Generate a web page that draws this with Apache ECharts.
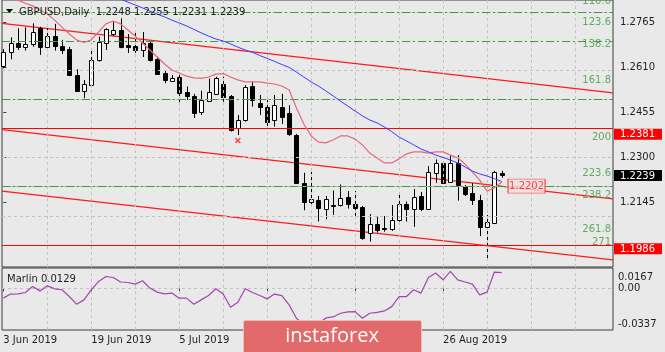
<!DOCTYPE html>
<html>
<head>
<meta charset="utf-8">
<title>GBPUSD Daily</title>
<script src="https://cdn.jsdelivr.net/npm/echarts@6/dist/echarts.min.js"></script>
<style>
  html, body { margin: 0; padding: 0; background: #e9e9e9; }
  #chart { width: 665px; height: 352px; }
</style>
</head>
<body>
<div id="chart"></div>
<script>
// ---- data ----
var symbol = 'GBPUSD';
var period = 'Daily';
var dateLabels = ['3 Jun 2019', '19 Jun 2019', '5 Jul 2019', '23 Jul 2019', '8 Aug 2019', '26 Aug 2019'];
var dateLabelBars = [0, 12, 24, 36, 48, 60];

var opens = [1.2616, 1.2663, 1.2696, 1.2681, 1.2691, 1.2746, 1.2682, 1.2719, 1.2685, 1.2674,
  1.2584, 1.2531, 1.2550, 1.2637, 1.2696, 1.2725, 1.2740, 1.2688, 1.2686, 1.2671,
  1.2696, 1.2639, 1.2591, 1.2565, 1.2579, 1.2527, 1.2513, 1.2458, 1.2496, 1.2520,
  1.2554, 1.2513, 1.2401, 1.2430, 1.2547, 1.2489, 1.2476, 1.2430, 1.2476, 1.2453,
  1.2378, 1.2214, 1.2148, 1.2156, 1.2125, 1.2137, 1.2137, 1.2164, 1.2139, 1.2129,
  1.2042, 1.2073, 1.2058, 1.2053, 1.2085, 1.2141, 1.2122, 1.2168, 1.2122, 1.2249,
  1.2281, 1.2217, 1.2283, 1.2203, 1.2177, 1.2154, 1.2060, 1.2076, 1.2248];
var highs = [1.2674, 1.2715, 1.2746, 1.2749, 1.2763, 1.2751, 1.2746, 1.2761, 1.2706, 1.2682,
  1.2605, 1.2568, 1.2674, 1.2717, 1.2746, 1.2769, 1.2780, 1.2726, 1.2733, 1.2733,
  1.2700, 1.2648, 1.2599, 1.2585, 1.2591, 1.2545, 1.2520, 1.2531, 1.2573, 1.2579,
  1.2579, 1.2516, 1.2447, 1.2550, 1.2562, 1.2516, 1.2499, 1.2516, 1.2520, 1.2481,
  1.2382, 1.2248, 1.2251, 1.2168, 1.2168, 1.2187, 1.2208, 1.2185, 1.2185, 1.2134,
  1.2106, 1.2097, 1.2099, 1.2137, 1.2173, 1.2149, 1.2192, 1.2182, 1.2271, 1.2294,
  1.2286, 1.2309, 1.2309, 1.2206, 1.2212, 1.2172, 1.2103, 1.2255, 1.2255];
var lows = [1.2608, 1.2639, 1.2671, 1.2669, 1.2682, 1.2654, 1.2669, 1.2669, 1.2657, 1.2581,
  1.2527, 1.2505, 1.2543, 1.2631, 1.2671, 1.2719, 1.2677, 1.2661, 1.2661, 1.2647,
  1.2631, 1.2585, 1.2556, 1.2562, 1.2481, 1.2499, 1.2437, 1.2447, 1.2493, 1.2516,
  1.2493, 1.2390, 1.2378, 1.2424, 1.2476, 1.2447, 1.2402, 1.2407, 1.2416, 1.2375,
  1.2210, 1.2119, 1.2130, 1.2080, 1.2088, 1.2103, 1.2132, 1.2125, 1.2092, 1.2017,
  1.2011, 1.2042, 1.2045, 1.2048, 1.2080, 1.2080, 1.2062, 1.2116, 1.2120, 1.2213,
  1.2210, 1.2214, 1.2152, 1.2168, 1.2137, 1.2030, 1.1953, 1.2074, 1.2231];
var closes = [1.2664, 1.2694, 1.2680, 1.2691, 1.2734, 1.2682, 1.2719, 1.2685, 1.2671, 1.2585,
  1.2530, 1.2554, 1.2637, 1.2700, 1.2742, 1.2740, 1.2682, 1.2683, 1.2671, 1.2695,
  1.2637, 1.2588, 1.2568, 1.2576, 1.2522, 1.2513, 1.2455, 1.2499, 1.2526, 1.2575,
  1.2510, 1.2395, 1.2430, 1.2545, 1.2499, 1.2474, 1.2424, 1.2481, 1.2441, 1.2380,
  1.2213, 1.2148, 1.2157, 1.2126, 1.2157, 1.2136, 1.2160, 1.2139, 1.2128, 1.2022,
  1.2072, 1.2051, 1.2056, 1.2085, 1.2141, 1.2122, 1.2164, 1.2122, 1.2250, 1.2283,
  1.2212, 1.2281, 1.2206, 1.2175, 1.2154, 1.2060, 1.2078, 1.2252, 1.2239];

// moving averages (pink = fast, blue = slow)
var maFast = [1.2862, 1.2853, 1.2843, 1.2832, 1.2823, 1.2809, 1.2795, 1.2774, 1.2750, 1.2726,
  1.2706, 1.2697, 1.2706, 1.2733, 1.2761, 1.2771, 1.2761, 1.2740, 1.2719, 1.2695,
  1.2671, 1.2647, 1.2623, 1.2602, 1.2592, 1.2581, 1.2575, 1.2573, 1.2578, 1.2588,
  1.2590, 1.2578, 1.2568, 1.2561, 1.2561, 1.2561, 1.2557, 1.2554, 1.2547, 1.2533,
  1.2471, 1.2416, 1.2375, 1.2354, 1.2351, 1.2361, 1.2375, 1.2375, 1.2364, 1.2344,
  1.2316, 1.2299, 1.2282, 1.2282, 1.2296, 1.2313, 1.2320, 1.2320, 1.2316, 1.2320,
  1.2320, 1.2309, 1.2299, 1.2278, 1.2251, 1.2223, 1.2185, 1.2196, 1.2216];
var maSlow = [null, null, null, null, null, null, null, null, null, null,
  null, null, null, 1.2878, 1.2867, 1.2857, 1.2847, 1.2836, 1.2826, 1.2816,
  1.2805, 1.2795, 1.2785, 1.2774, 1.2764, 1.2754, 1.2742, 1.2730, 1.2719, 1.2709,
  1.2702, 1.2692, 1.2681, 1.2671, 1.2663, 1.2652, 1.2642, 1.2632, 1.2621, 1.2611,
  1.2595, 1.2578, 1.2561, 1.2547, 1.2530, 1.2513, 1.2495, 1.2478, 1.2461, 1.2444,
  1.2430, 1.2420, 1.2406, 1.2390, 1.2371, 1.2358, 1.2344, 1.2330, 1.2320, 1.2309,
  1.2301, 1.2292, 1.2282, 1.2268, 1.2254, 1.2244, 1.2237, 1.2228, 1.2218];

// Marlin oscillator
var marlin = [-0.0078, -0.0045, -0.0043, -0.0032, 0.0017, -0.0019, 0.0022, -0.0002, -0.0010, -0.0065,
  -0.0127, -0.0092, -0.0010, 0.0058, 0.0098, 0.0090, 0.0053, 0.0049, 0.0036, 0.0063,
  0.0004, -0.0029, -0.0043, -0.0037, -0.0078, -0.0078, -0.0127, -0.0092, -0.0057, -0.0002,
  -0.0045, -0.0152, -0.0111, -0.0002, -0.0032, -0.0057, -0.0084, -0.0045, -0.0057, -0.0133,
  -0.0242, -0.0296, -0.0313, -0.0288, -0.0239, -0.0231, -0.0201, -0.0190, -0.0188, -0.0242,
  -0.0201, -0.0193, -0.0182, -0.0147, -0.0065, -0.0065, -0.0010, -0.0037, 0.0090, 0.0126,
  0.0071, 0.0139, 0.0071, 0.0053, 0.0036, -0.0051, -0.0029, 0.0134, 0.0129];

// axis ticks
var priceTicks = [1.2765, 1.2610, 1.2455, 1.2300, 1.2145];
var marlinTicks = [0.0167, 0.00, -0.0337];
var gridBars = [6, 12, 18, 24, 30, 36, 42, 48, 54, 60, 66, 72, 78];

// objects drawn on the chart
var fibLabels = ['110.0', '123.6', '138.2', '161.8', '200', '223.6', '238.2', '261.8', '271'];
var fibPrices = [1.2817, 1.2744, 1.2669, 1.2547, 1.2350, 1.2226, 1.2151, 1.2031, 1.1986];
var levelPrices = [1.2381, 1.1986];
var channelStart = [1.2763, 1.2397, 1.2185];   // price at left edge
var channelEnd = [1.2523, 1.2158, 1.1948];     // price at right edge
var trendLabelPrice = 1.2202;
var crossBar = 32, crossPrice = 1.2359;

// ---- layout ----
var xMin = -0.18, xMax = 83.19;
var yMin = 1.19235, yMax = 1.28433;
var font = 'DejaVu Sans';
var last = opens.length - 1;
var bid = closes[last];

var candleData = opens.map(function (o, i) {
  return [i, o, closes[i], lows[i], highs[i]];
});

function renderCandle(params, api) {
  var i = api.value(0);
  var o = api.coord([i, api.value(1)]);
  var c = api.coord([i, api.value(2)]);
  var l = api.coord([i, api.value(3)]);
  var h = api.coord([i, api.value(4)]);
  var x = Math.round(o[0]) + 0.5;
  var up = api.value(2) >= api.value(1);
  var top = Math.round(Math.min(o[1], c[1])) + 0.5;
  var bot = Math.round(Math.max(o[1], c[1])) + 0.5;
  return {
    type: 'group',
    children: [
      {type: 'line', shape: {x1: x, y1: h[1], x2: x, y2: l[1]}, style: {stroke: '#000', lineWidth: 1}},
      {type: 'rect', shape: {x: x - 2, y: top, width: 4, height: Math.max(bot - top, 1)},
        style: {fill: up ? '#fff' : '#000', stroke: '#000', lineWidth: 1}}
    ]
  };
}

function near(a, b) { return Math.abs(a - b) < 1e-7; }

function hLines(values, style, z) {
  return {
    type: 'line', xAxisIndex: 0, yAxisIndex: 0, data: [], z: z, silent: true,
    markLine: {
      symbol: ['none', 'none'], animation: false, silent: true, label: {show: false},
      lineStyle: style,
      data: values
    }
  };
}

var gridLine = {color: '#c2c2c2', type: [3, 3], width: 1};
var fibLine = {color: '#3f9a3f', type: [8, 3, 2, 3], width: 1.2};

var series = [];

// grid lines of the main window
series.push(hLines(priceTicks.map(function (p) { return {yAxis: p}; })
  .concat(gridBars.map(function (b) { return {xAxis: b}; })), gridLine, 1));
// bid line
series.push(hLines([{yAxis: bid}], {color: '#b4b4b4', type: 'solid', width: 1}, 1));
// fibo expansion levels
series.push(hLines(fibPrices.map(function (p) { return {yAxis: p}; }), fibLine, 2));
series.push({
  type: 'scatter', xAxisIndex: 0, yAxisIndex: 0, z: 3, silent: true, symbolSize: 0,
  label: {show: true, position: 'left', distance: 2, offset: [0, -6], color: '#3c9a3c',
    fontFamily: font, fontSize: 10,
    formatter: function (p) { return fibLabels[p.dataIndex]; }},
  data: fibPrices.map(function (p) { return [xMax, p]; })
});
// horizontal red levels
series.push(hLines(levelPrices.map(function (p) { return {yAxis: p}; }),
  {color: '#ff0000', type: 'solid', width: 1}, 3));
// channel lines
channelStart.forEach(function (p, k) {
  series.push({
    type: 'line', xAxisIndex: 0, yAxisIndex: 0, z: 3, silent: true, showSymbol: false,
    lineStyle: {color: '#ff1a1a', width: 1.3},
    data: [[xMin, p], [xMax, channelEnd[k]]]
  });
});
// candles
series.push({
  type: 'custom', xAxisIndex: 0, yAxisIndex: 0, z: 4,
  renderItem: renderCandle,
  encode: {x: 0, y: [1, 2, 3, 4]},
  data: candleData
});
// moving averages
series.push({
  type: 'line', xAxisIndex: 0, yAxisIndex: 0, z: 5, showSymbol: false, silent: true,
  lineStyle: {color: '#e8697c', width: 1.2},
  data: maFast.map(function (v, i) { return [i, v]; })
});
series.push({
  type: 'line', xAxisIndex: 0, yAxisIndex: 0, z: 5, showSymbol: false, silent: true,
  lineStyle: {color: '#3b3bff', width: 1},
  data: maSlow.map(function (v, i) { return [i, v]; })
});
// red cross marker
series.push({
  type: 'scatter', xAxisIndex: 0, yAxisIndex: 0, z: 6, silent: true,
  symbol: 'path://M2,0L5,3L8,0L10,2L7,5L10,8L8,10L5,7L2,10L0,8L3,5L0,2Z',
  symbolSize: 6, itemStyle: {color: '#ff2a2a'},
  data: [[crossBar, crossPrice]]
});
// price label on the trend line
series.push({
  type: 'scatter', xAxisIndex: 0, yAxisIndex: 0, z: 6, silent: true,
  symbol: 'rect', symbolSize: [37, 14],
  itemStyle: {color: '#f4dede', borderColor: '#f05050', borderWidth: 1},
  label: {show: true, position: 'inside', color: '#ff1a1a', fontFamily: font, fontSize: 10,
    formatter: function () { return trendLabelPrice.toFixed(4); }},
  data: [[last + 3.4, trendLabelPrice]]
});
// Marlin window
series.push({
  type: 'line', xAxisIndex: 1, yAxisIndex: 1, z: 5, showSymbol: false, silent: true,
  lineStyle: {color: '#a544b0', width: 1.2},
  data: marlin.map(function (v, i) { return [i, v]; }),
  markLine: {
    symbol: ['none', 'none'], animation: false, silent: true, label: {show: false},
    lineStyle: gridLine,
    data: [{yAxis: 0}].concat(gridBars.map(function (b) { return {xAxis: b}; }))
  }
});

var tags = [[levelPrices[0], 'red'], [bid, 'blk'], [levelPrices[1], 'red']];

var option = {
  animation: false,
  backgroundColor: '#e9e9e9',
  textStyle: {fontFamily: font},
  grid: [
    {left: 2, top: 0, width: 611, height: 267, show: true, borderColor: '#3c3c3c', borderWidth: 1},
    {left: 2, top: 268, width: 611, height: 62, show: true, borderColor: '#3c3c3c', borderWidth: 1}
  ],
  xAxis: [
    {type: 'value', gridIndex: 0, min: xMin, max: xMax, axisLine: {show: false},
      axisTick: {show: false}, axisLabel: {show: false}, splitLine: {show: false}},
    {type: 'value', gridIndex: 1, min: xMin, max: xMax, axisLine: {show: false},
      axisTick: {show: true, customValues: dateLabelBars, length: 3, lineStyle: {color: '#3c3c3c'}},
      axisLabel: {customValues: dateLabelBars, align: 'left', margin: 5, color: '#1e1e1e',
        fontFamily: font, fontSize: 10,
        formatter: function (v) {
          var k = dateLabelBars.indexOf(Math.round(v));
          return k >= 0 ? dateLabels[k] : '';
        }},
      splitLine: {show: false}}
  ],
  yAxis: [
    {type: 'value', gridIndex: 0, position: 'right', min: yMin, max: yMax,
      axisLine: {show: false}, splitLine: {show: false},
      axisTick: {show: true, customValues: priceTicks, length: 3, lineStyle: {color: '#3c3c3c'}},
      axisLabel: {
        customValues: priceTicks.concat(tags.map(function (t) { return t[0]; })),
        margin: 1, fontFamily: font, fontSize: 10,
        formatter: function (v) {
          for (var k = 0; k < tags.length; k++) {
            if (near(v, tags[k][0])) return '{' + tags[k][1] + '|' + v.toFixed(4) + '}';
          }
          return '{n|' + v.toFixed(4) + '}';
        },
        rich: {
          n: {color: '#1e1e1e', fontFamily: font, fontSize: 10, padding: [0, 0, 0, 6]},
          red: {color: '#fff', backgroundColor: '#ff0000', fontFamily: font, fontSize: 10, padding: [1, 7, 0, 6]},
          blk: {color: '#fff', backgroundColor: '#000000', fontFamily: font, fontSize: 10, padding: [1, 7, 0, 6]}
        }
      }},
    {type: 'value', gridIndex: 1, position: 'right', min: marlinTicks[2], max: marlinTicks[0],
      axisLine: {show: false}, splitLine: {show: false}, axisTick: {show: false},
      axisLabel: {
        customValues: marlinTicks, margin: 1, fontFamily: font, fontSize: 10,
        formatter: function (v) {
          if (near(v, marlinTicks[0])) return '{t|' + v.toFixed(4) + '}';
          if (near(v, marlinTicks[2])) return '{b|' + v.toFixed(4) + '}';
          return '{n|' + v.toFixed(2) + '}';
        },
        rich: {
          t: {color: '#1e1e1e', fontFamily: font, fontSize: 10, padding: [18, 0, 0, 4]},
          n: {color: '#1e1e1e', fontFamily: font, fontSize: 10, padding: [0, 0, 0, 4]},
          b: {color: '#1e1e1e', fontFamily: font, fontSize: 10, padding: [0, 0, 12, 4]}
        }
      }}
  ],
  graphic: [
    {type: 'polygon', shape: {points: [[6, 9], [13, 9], [9.5, 13]]}, style: {fill: '#000'}, z: 10},
    {type: 'text', x: 19, y: 12, z: 10, style: {
      text: symbol + ',' + period + '  ' + [opens[last], highs[last], lows[last], closes[last]]
        .map(function (v) { return v.toFixed(4); }).join(' '),
      font: '10px "DejaVu Sans"', fill: '#1e1e1e', verticalAlign: 'middle'}},
    {type: 'text', x: 7, y: 279, z: 10, style: {
      text: 'Marlin ' + marlin[last].toFixed(4),
      font: '10px "DejaVu Sans"', fill: '#1e1e1e', verticalAlign: 'middle'}},
    {type: 'rect', z: 100, zlevel: 1, shape: {x: 243.5, y: 320.5, width: 178, height: 40, r: 2},
      style: {fill: '#e36a6a', stroke: '#f2b9b9', lineWidth: 1}},
    {type: 'text', z: 101, zlevel: 1, x: 332, y: 336, style: {text: 'instaforex', fill: '#fff',
      font: '20px "Open Sans"', align: 'center', verticalAlign: 'middle'}}
  ],
  series: series
};

var chart = echarts.init(document.getElementById('chart'));
chart.setOption(option);
</script>
</body>
</html>
